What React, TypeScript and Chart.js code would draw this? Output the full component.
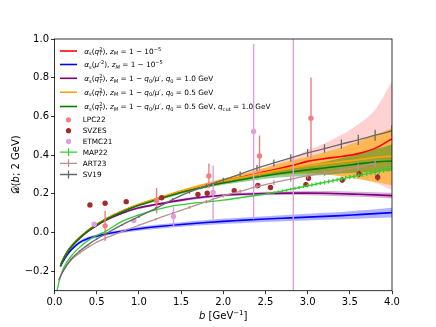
import React, { useEffect, useRef } from 'react';
import { Chart, registerables } from 'chart.js';

Chart.register(...registerables);

const W = 436;
const H = 327;
const FONT = '"DejaVu Sans", sans-serif';

// ---------- axis ticks ----------
const xTicks = [0, 0.5, 1.0, 1.5, 2.0, 2.5, 3.0, 3.5, 4.0];
const yTicks = [-0.2, 0.0, 0.2, 0.4, 0.6, 0.8, 1.0];

// ---------- model curves (common b grid) ----------
const bGrid = [0.07, 0.1, 0.15, 0.2, 0.3, 0.4, 0.5, 0.6, 0.8, 1.0, 1.2, 1.5, 1.8, 2.0, 2.2, 2.5, 2.8, 3.0, 3.2, 3.4, 3.6, 3.8, 4.0];

const redMid = [-0.17, -0.14, -0.1, -0.07, -0.025, 0.012, 0.042, 0.068, 0.11, 0.145, 0.172, 0.212, 0.246, 0.266, 0.285, 0.315, 0.345, 0.368, 0.382, 0.393, 0.408, 0.435, 0.485];
const redLo = [-0.175, -0.145, -0.105, -0.075, -0.03, 0.007, 0.037, 0.063, 0.105, 0.139, 0.166, 0.204, 0.236, 0.254, 0.27, 0.292, 0.305, 0.308, 0.303, 0.293, 0.278, 0.258, 0.22];
const redHi = [-0.165, -0.135, -0.095, -0.065, -0.02, 0.017, 0.047, 0.073, 0.115, 0.151, 0.178, 0.22, 0.256, 0.278, 0.3, 0.338, 0.385, 0.425, 0.46, 0.505, 0.56, 0.635, 0.78];

const blueMid = [-0.175, -0.15, -0.115, -0.088, -0.05, -0.03, -0.018, -0.008, 0.007, 0.02, 0.03, 0.042, 0.052, 0.058, 0.063, 0.07, 0.076, 0.08, 0.084, 0.088, 0.093, 0.098, 0.103];
const blueLo = [-0.18, -0.156, -0.122, -0.095, -0.058, -0.038, -0.026, -0.016, -0.002, 0.01, 0.019, 0.03, 0.039, 0.045, 0.049, 0.055, 0.06, 0.063, 0.066, 0.069, 0.072, 0.075, 0.078];
const blueHi = [-0.17, -0.144, -0.108, -0.081, -0.042, -0.022, -0.01, 0.0, 0.016, 0.03, 0.041, 0.054, 0.065, 0.071, 0.077, 0.085, 0.092, 0.097, 0.102, 0.107, 0.114, 0.121, 0.128];

const purpleMid = [-0.172, -0.142, -0.102, -0.072, -0.028, 0.008, 0.037, 0.062, 0.1, 0.128, 0.145, 0.168, 0.185, 0.193, 0.198, 0.202, 0.204, 0.204, 0.203, 0.201, 0.198, 0.195, 0.191];
const purpleLo = [-0.176, -0.146, -0.106, -0.076, -0.032, 0.004, 0.033, 0.058, 0.095, 0.122, 0.139, 0.161, 0.178, 0.186, 0.19, 0.193, 0.194, 0.193, 0.191, 0.188, 0.185, 0.181, 0.176];
const purpleHi = [-0.168, -0.138, -0.098, -0.068, -0.024, 0.012, 0.041, 0.066, 0.105, 0.134, 0.151, 0.175, 0.192, 0.2, 0.206, 0.211, 0.214, 0.215, 0.215, 0.214, 0.211, 0.209, 0.206];

const orangeMid = [-0.17, -0.14, -0.1, -0.069, -0.024, 0.013, 0.043, 0.069, 0.111, 0.146, 0.174, 0.214, 0.248, 0.267, 0.284, 0.31, 0.333, 0.345, 0.356, 0.366, 0.376, 0.388, 0.395];
const orangeLo = [-0.174, -0.144, -0.104, -0.073, -0.028, 0.009, 0.039, 0.065, 0.107, 0.141, 0.168, 0.206, 0.238, 0.256, 0.27, 0.29, 0.302, 0.305, 0.3, 0.29, 0.277, 0.262, 0.245];
const orangeHi = [-0.166, -0.136, -0.096, -0.065, -0.02, 0.017, 0.047, 0.073, 0.115, 0.151, 0.18, 0.222, 0.258, 0.28, 0.3, 0.335, 0.372, 0.392, 0.415, 0.44, 0.47, 0.505, 0.54];

const greenMid = [-0.172, -0.142, -0.102, -0.072, -0.027, 0.01, 0.04, 0.066, 0.107, 0.141, 0.168, 0.207, 0.238, 0.256, 0.272, 0.294, 0.313, 0.324, 0.334, 0.344, 0.355, 0.365, 0.37];
const greenLo = [-0.175, -0.145, -0.105, -0.075, -0.03, 0.007, 0.037, 0.063, 0.103, 0.136, 0.162, 0.2, 0.23, 0.247, 0.26, 0.278, 0.288, 0.292, 0.298, 0.305, 0.31, 0.315, 0.318];
const greenHi = [-0.169, -0.139, -0.099, -0.069, -0.024, 0.013, 0.043, 0.069, 0.111, 0.146, 0.174, 0.214, 0.246, 0.265, 0.284, 0.31, 0.335, 0.35, 0.365, 0.385, 0.405, 0.43, 0.455];

// ---------- lattice / data points ----------
const lpcB = [0.6, 1.21, 1.83, 2.43, 3.04];
const lpcY = [0.035, 0.165, 0.293, 0.396, 0.591];
const lpcErr = [0.078, 0.066, 0.064, 0.105, 0.21];

const svzesB = [0.42, 0.6, 0.85, 1.27, 1.7, 1.81, 2.13, 2.41, 2.56, 2.98, 3.01, 3.41, 3.61, 3.83];
const svzesY = [0.143, 0.152, 0.16, 0.18, 0.197, 0.203, 0.217, 0.243, 0.233, 0.248, 0.281, 0.272, 0.303, 0.286];
const svzesErr = [0, 0, 0, 0, 0, 0, 0, 0, 0, 0.012, 0.012, 0.014, 0.016, 0.018];

const etmcB = [0.47, 0.94, 1.41, 1.88, 2.36, 2.83];
const etmcY = [0.043, 0.062, 0.083, 0.207, 0.522, -0.6];
const etmcErr = [0.005, 0.008, 0.051, 0.14, 0.453, 2.5];

// ---------- phenomenological extractions ----------
const mapB = [0.03, 0.05, 0.1, 0.15, 0.2, 0.3, 0.4, 0.5, 0.6, 0.8, 1.0, 1.2, 1.4, 1.6, 1.8, 2.0, 2.2, 2.4, 2.6, 2.65, 2.7, 2.75, 2.8, 2.85, 2.9, 2.95, 3.0, 3.05, 3.1, 3.15, 3.2, 3.25, 3.3, 3.35, 3.4, 3.45, 3.5, 3.55, 3.6, 3.65, 3.7, 3.75, 3.8, 3.85, 3.9, 3.95, 4.0];
const mapY = [-0.3, -0.26, -0.19, -0.15, -0.12, -0.075, -0.04, -0.015, 0.005, 0.058, 0.092, 0.118, 0.138, 0.15, 0.158, 0.168, 0.18, 0.193, 0.207, 0.211, 0.216, 0.22, 0.225, 0.229, 0.233, 0.238, 0.242, 0.246, 0.251, 0.255, 0.259, 0.264, 0.268, 0.273, 0.277, 0.281, 0.286, 0.29, 0.295, 0.299, 0.303, 0.308, 0.312, 0.317, 0.322, 0.327, 0.333];
const mapErr = [0, 0, 0, 0, 0, 0, 0, 0, 0, 0, 0, 0, 0, 0, 0, 0, 0, 0, 0.006, 0.006, 0.007, 0.007, 0.007, 0.008, 0.008, 0.008, 0.009, 0.009, 0.009, 0.009, 0.01, 0.01, 0.01, 0.01, 0.011, 0.011, 0.011, 0.011, 0.012, 0.012, 0.012, 0.012, 0.013, 0.013, 0.013, 0.013, 0.014];

const artB = [0.05, 0.1, 0.2, 0.3, 0.4, 0.5, 0.6, 0.8, 1.0, 1.2, 1.4, 1.6, 1.8, 2.0, 2.2, 2.4, 2.6, 2.8, 3.0, 3.2, 3.4, 3.6, 3.8];
const artY = [-0.25, -0.2, -0.14, -0.105, -0.075, -0.05, -0.03, 0.005, 0.038, 0.07, 0.1, 0.13, 0.16, 0.19, 0.213, 0.238, 0.258, 0.276, 0.293, 0.308, 0.323, 0.34, 0.357];
const artErr = [0, 0.001, 0.002, 0.002, 0.003, 0.003, 0.004, 0.004, 0.005, 0.006, 0.006, 0.007, 0.008, 0.009, 0.01, 0.011, 0.012, 0.013, 0.014, 0.015, 0.016, 0.017, 0.018];

const svB = [0.05, 0.1, 0.2, 0.3, 0.4, 0.5, 0.6, 0.8, 1.0, 1.2, 1.4, 1.6, 1.8, 2.0, 2.2, 2.4, 2.6, 2.8, 3.0, 3.2, 3.4, 3.6, 3.8, 4.0];
const svY = [-0.245, -0.2, -0.135, -0.095, -0.062, -0.033, -0.008, 0.04, 0.083, 0.125, 0.17, 0.21, 0.242, 0.272, 0.302, 0.333, 0.36, 0.386, 0.412, 0.434, 0.457, 0.479, 0.503, 0.525];
const svErr = [0, 0.002, 0.002, 0.003, 0.003, 0.004, 0.004, 0.005, 0.006, 0.007, 0.008, 0.009, 0.01, 0.012, 0.014, 0.016, 0.018, 0.019, 0.02, 0.022, 0.024, 0.026, 0.028, 0.03];

// ---------- colours ----------
const RED = '#ff0000';
const BLUE = '#0000ff';
const PURPLE = '#800080';
const ORANGE = '#ffa500';
const GREEN = '#008000';
const LPC = '#f08080';
const SVZES = '#a52a2a';
const ETMC = '#dda0dd';
const MAP = '#32cd32';
const ART = '#bc8f8f';
const SV = '#696969';

// ---------- legend ----------
const curveLabels = [
  '$α_s(q_T^2)$, $z_M = 1 − 10^{−5}$',
  '$α_s(μ′^2)$, $z_M = 1 − 10^{−5}$',
  '$α_s(q_T^2)$, $z_M = 1 − q_0/μ′$, $q_0 = 1.0$ GeV',
  '$α_s(q_T^2)$, $z_M = 1 − q_0/μ′$, $q_0 = 0.5$ GeV',
  '$α_s(q_T^2)$, $z_M = 1 − q_0/μ′$, $q_0 = 0.5$ GeV, $q_{!cut} = 1.0$ GeV',
];
const curveColors = [RED, BLUE, PURPLE, ORANGE, GREEN];
const curveLegendY = [51, 64.5, 78.3, 92.2, 106.5];
const dataLabels = ['LPC22', 'SVZES', 'ETMC21', 'MAP22', 'ART23', 'SV19'];
const dataColors = [LPC, SVZES, ETMC, MAP, ART, SV];
const dataLegendY = [119.8, 130.7, 141.4, 152.2, 163.3, 174.5];
const dataIsLine = [false, false, false, true, true, true];

const xTitle = '$b$ [GeV$^{−1}$]';
const yTitle = '$𝒟(b;$ 2 GeV$)$';

function pts(xs: number[], ys: number[]) {
  return xs.map((x, i) => ({ x, y: ys[i] }));
}

function rich(ctx: CanvasRenderingContext2D, s: string, x: number, y: number, size: number, draw = true): number {
  let math = false;
  let i = 0;
  let cx = x;
  let last: null | { start: number; end: number; lvl: number } = null;
  const isLetter = (c: string) => /[A-Za-z\u0370-\u03ff]/.test(c);
  const put = (str: string, italic: boolean, fs: number, dy: number, px: number) => {
    ctx.font = `${italic ? 'italic ' : ''}${fs}px ${FONT}`;
    if (draw) ctx.fillText(str, px, y + dy);
    return ctx.measureText(str).width;
  };
  while (i < s.length) {
    const c = s[i];
    if (c === '$') { math = !math; i++; continue; }
    if (math && (c === '_' || c === '^')) {
      i++;
      let g: string;
      if (s[i] === '{') { const j = s.indexOf('}', i); g = s.slice(i + 1, j); i = j + 1; } else { g = s[i]; i++; }
      let roman = false;
      if (g[0] === '!') { roman = true; g = g.slice(1); }
      const lvl = c === '_' ? -1 : 1;
      const sx = last && last.end === cx && last.lvl !== lvl ? last.start : cx;
      const fs = size * 0.7;
      const dy = lvl < 0 ? size * 0.22 : -size * 0.42;
      let px = sx;
      for (const ch of g) px += put(ch, !roman && isLetter(ch), fs, dy, px);
      const end = Math.max(px, cx);
      last = { start: sx, end, lvl };
      cx = end;
      continue;
    }
    const cp = String.fromCodePoint(s.codePointAt(i) as number);
    cx += put(cp, math && isLetter(cp), size, 0, cx);
    i += cp.length;
    last = null;
  }
  return cx - x;
}

const errorBarPlugin = {
  id: 'errorBars',
  beforeDatasetDraw(chart: any, args: any) {
    const ds = chart.data.datasets[args.index];
    if (!ds.errs) return;
    const { ctx, chartArea: a, scales } = chart;
    ctx.save();
    ctx.beginPath();
    ctx.rect(a.left, a.top, a.right - a.left, a.bottom - a.top);
    ctx.clip();
    ctx.strokeStyle = ds.errColor;
    ctx.lineWidth = ds.errWidth;
    ds.data.forEach((p: any, i: number) => {
      const e = ds.errs[i];
      if (!e) return;
      const px = scales.x.getPixelForValue(p.x);
      ctx.beginPath();
      ctx.moveTo(px, scales.y.getPixelForValue(p.y - e));
      ctx.lineTo(px, scales.y.getPixelForValue(p.y + e));
      ctx.stroke();
    });
    ctx.restore();
  },
};

const decorPlugin = {
  id: 'decor',
  afterDatasetsDraw(chart: any) {
    const { ctx, chartArea: a } = chart;
    ctx.save();
    ctx.strokeStyle = '#000';
    ctx.lineWidth = 0.8;
    ctx.strokeRect(a.left, a.top, a.right - a.left, a.bottom - a.top);
    ctx.restore();
  },
  afterDraw(chart: any) {
    const { ctx, chartArea: a } = chart;
    ctx.save();
    ctx.textBaseline = 'alphabetic';
    ctx.textAlign = 'left';
    // legend: curves
    const LS = 7.3;
    curveLabels.forEach((lab, k) => {
      const cy = curveLegendY[k];
      ctx.strokeStyle = curveColors[k];
      ctx.lineWidth = 1.6;
      ctx.beginPath();
      ctx.moveTo(60, cy);
      ctx.lineTo(77, cy);
      ctx.stroke();
      ctx.fillStyle = '#000';
      rich(ctx, lab, 84.3, cy + LS * 0.36, LS);
    });
    dataLabels.forEach((lab, k) => {
      const cy = dataLegendY[k];
      const col = dataColors[k];
      if (dataIsLine[k]) {
        ctx.strokeStyle = col;
        ctx.lineWidth = 1.3;
        ctx.beginPath();
        ctx.moveTo(60, cy);
        ctx.lineTo(77, cy);
        ctx.moveTo(68.5, cy - 4);
        ctx.lineTo(68.5, cy + 4);
        ctx.stroke();
      } else {
        ctx.fillStyle = col;
        ctx.beginPath();
        ctx.arc(68.5, cy, 2.6, 0, Math.PI * 2);
        ctx.fill();
      }
      ctx.fillStyle = '#000';
      rich(ctx, lab, 82.7, cy + LS * 0.36, LS);
    });
    // axis titles
    const TS = 10;
    ctx.fillStyle = '#000';
    const xw = rich(ctx, xTitle, 0, 0, TS, false);
    rich(ctx, xTitle, (a.left + a.right) / 2 - xw / 2, 318.8, TS);
    const yw = rich(ctx, yTitle, 0, 0, TS, false);
    ctx.translate(15, (a.top + a.bottom) / 2);
    ctx.rotate(-Math.PI / 2);
    rich(ctx, yTitle, -yw / 2, 3.6, TS);
    ctx.restore();
  },
};

function band(hi: number[], lo: number[], color: string) {
  return [
    { data: pts(bGrid, hi), borderWidth: 0, pointRadius: 0, fill: '+1', backgroundColor: color, cubicInterpolationMode: 'monotone' },
    { data: pts(bGrid, lo), borderWidth: 0, pointRadius: 0, fill: false, cubicInterpolationMode: 'monotone' },
  ];
}

function curve(ys: number[], color: string) {
  return { data: pts(bGrid, ys), borderColor: color, borderWidth: 1.6, pointRadius: 0, fill: false, cubicInterpolationMode: 'monotone' };
}

function errLine(xs: number[], ys: number[], errs: number[], color: string) {
  return { data: pts(xs, ys), borderColor: color, borderWidth: 1.3, pointRadius: 0, fill: false, cubicInterpolationMode: 'monotone', errs, errColor: color, errWidth: 1.3 };
}

function points(xs: number[], ys: number[], errs: number[], color: string) {
  return { data: pts(xs, ys), showLine: false, pointRadius: 2.7, pointBackgroundColor: color, pointBorderColor: color, pointBorderWidth: 0, fill: false, errs, errColor: color, errWidth: 1.4 };
}

export default function App() {
  const ref = useRef<HTMLCanvasElement>(null);
  useEffect(() => {
    document.body.style.margin = '0';
    const list: any[] = [
      ...band(redHi, redLo, 'rgba(255,0,0,0.18)'),
      ...band(blueHi, blueLo, 'rgba(0,0,255,0.3)'),
      ...band(purpleHi, purpleLo, 'rgba(128,0,128,0.3)'),
      ...band(orangeHi, orangeLo, 'rgba(255,165,0,0.6)'),
      ...band(greenHi, greenLo, 'rgba(0,128,0,0.4)'),
      curve(redMid, RED),
      curve(blueMid, BLUE),
      curve(purpleMid, PURPLE),
      curve(orangeMid, ORANGE),
      curve(greenMid, GREEN),
      points(lpcB, lpcY, lpcErr, LPC),
      points(svzesB, svzesY, svzesErr, SVZES),
      points(etmcB, etmcY, etmcErr, ETMC),
      errLine(mapB, mapY, mapErr, MAP),
      errLine(artB, artY, artErr, ART),
      errLine(svB, svY, svErr, SV),
    ];
    list.forEach((d, i) => { d.order = list.length - i; });
    const tickFont = { family: FONT, size: 10 };
    const fmt = (v: number) => (v < 0 ? '−' : '') + Math.abs(v).toFixed(1);
    const chart = new Chart(ref.current as HTMLCanvasElement, {
      type: 'line',
      data: { datasets: list },
      options: {
        responsive: false,
        animation: false,
        devicePixelRatio: 1,
        layout: { padding: { left: 0, right: 44, top: 39, bottom: 0 } },
        plugins: { legend: { display: false }, tooltip: { enabled: false }, filler: { propagate: false } },
        scales: {
          x: {
            type: 'linear',
            min: 0,
            max: 4,
            afterBuildTicks: (s: any) => { s.ticks = xTicks.map((v) => ({ value: v })); },
            afterFit: (s: any) => { s.height = 36.3; },
            ticks: { font: tickFont, color: '#000', padding: 2, maxRotation: 0, autoSkip: false, callback: (v: any) => fmt(Number(v)) },
            grid: { display: true, drawOnChartArea: false, drawTicks: true, tickLength: 3.5, color: '#000', lineWidth: 0.8 },
            border: { display: false },
          },
          y: {
            type: 'linear',
            min: -0.3,
            max: 1.0,
            afterBuildTicks: (s: any) => { s.ticks = yTicks.map((v) => ({ value: v })); },
            afterFit: (s: any) => { s.width = 54.5; },
            ticks: { font: tickFont, color: '#000', padding: 2, autoSkip: false, callback: (v: any) => fmt(Number(v)) },
            grid: { display: true, drawOnChartArea: false, drawTicks: true, tickLength: 3.5, color: '#000', lineWidth: 0.8 },
            border: { display: false },
          },
        },
      } as any,
      plugins: [errorBarPlugin, decorPlugin],
    });
    return () => chart.destroy();
  }, []);
  return (
    <div style={{ width: W, height: H, position: 'relative' }}>
      <canvas ref={ref} width={W} height={H} style={{ display: 'block', width: W, height: H }} />
    </div>
  );
}
